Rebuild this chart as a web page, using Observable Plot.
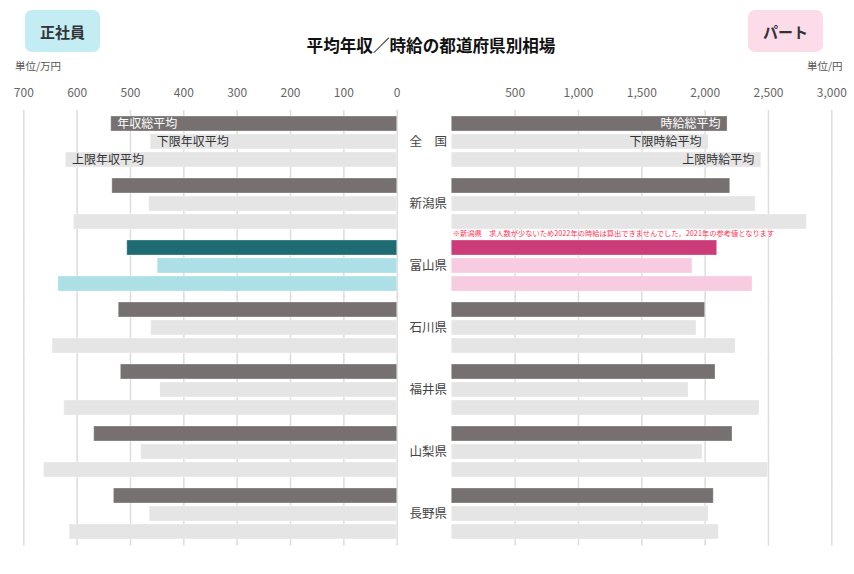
<!DOCTYPE html>
<html>
<head>
<meta charset="utf-8">
<script src="https://cdn.jsdelivr.net/npm/d3@7"></script>
<script src="https://cdn.jsdelivr.net/npm/@observablehq/plot@0.6"></script>
<style>
  html, body { margin: 0; padding: 0; background: #fff; }
  #wrap { position: relative; width: 854px; height: 574px; overflow: hidden; font-family: "Noto Sans CJK JP", "Noto Sans", sans-serif; }
  #wrap > * { position: absolute; }
  .badge { top: 10px; width: 75px; height: 42px; border-radius: 7px; font-weight: bold; font-size: 15px; color: #333; display: flex; align-items: center; justify-content: center; }
  .unit { font-size: 10.5px; color: #555; }
</style>
</head>
<body>
<div id="wrap"></div>
<script>
const prefs = ["全国", "新潟県", "富山県", "石川県", "福井県", "山梨県", "長野県"];
const metrics = ["avg", "min", "max"];
const salaryLabels = ["年収総平均", "下限年収平均", "上限年収平均"];
const wageLabels = ["時給総平均", "下限時給平均", "上限時給平均"];
const salaryAvg = [536, 534, 506, 522, 518, 568, 531];
const salaryMin = [462, 465, 449, 461, 444, 480, 464];
const salaryMax = [621, 606, 635, 646, 624, 662, 614];
const wageAvg = [2177, 2198, 2095, 2000, 2082, 2216, 2068];
const wageMin = [2027, 2398, 1900, 1932, 1869, 1979, 2027];
const wageMax = [2443, 2803, 2374, 2240, 2429, 2498, 2108];
const salaryTicks = [0, 100, 200, 300, 400, 500, 600, 700];
const wageTicks = [500, 1000, 1500, 2000, 2500, 3000];
const title = "平均年収／時給の都道府県別相場";
const leftBadge = "正社員";
const rightBadge = "パート";
const leftUnit = "単位/万円";
const rightUnit = "単位/円";
const note = "※新潟県　求人数が少ないため2022年の時給は算出できませんでした。2021年の参考値となります";
const highlight = "富山県";

function rows(avg, mn, mx, labels) {
  const out = [];
  prefs.forEach((p, i) => {
    [avg, mn, mx].forEach((arr, j) => out.push({pref: p, metric: metrics[j], value: arr[i], label: labels[j]}));
  });
  return out;
}
const salary = rows(salaryAvg, salaryMin, salaryMax, salaryLabels);
const wage = rows(wageAvg, wageMin, wageMax, wageLabels);

const palette = {
  left: {hiAvg: "#1f6b74", hiOther: "#acdfe6"},
  right: {hiAvg: "#cc3c78", hiOther: "#f8cce0"},
  avg: "#767170", other: "#e5e5e5"
};
function fillFor(side) {
  return d => d.pref === highlight
    ? (d.metric === "avg" ? palette[side].hiAvg : palette[side].hiOther)
    : (d.metric === "avg" ? palette.avg : palette.other);
}

const font = `"Noto Sans CJK JP", "Noto Sans", sans-serif`;
const common = {
  height: 574,
  marginTop: 114,
  marginBottom: 32.3,
  fy: {domain: prefs, paddingInner: 0.175, paddingOuter: 0, axis: null, label: null},
  y: {domain: metrics, paddingInner: 0.167, paddingOuter: 0, axis: null, label: null},
  style: {fontFamily: font, fontSize: "12px", color: "#666", background: "transparent", overflow: "visible"}
};

const left = Plot.plot({
  ...common,
  width: 427,
  marginLeft: 23.3,
  marginRight: 30.3,
  x: {domain: [0, 700], reverse: true, ticks: salaryTicks, axis: "top", tickSize: 0, tickPadding: 20, label: null},
  marks: [
    Plot.ruleX(salaryTicks, {x: d => d, stroke: "#dddddd", strokeWidth: 1.5, insetTop: -6, insetBottom: -6.5}),
    Plot.barX(salary, {fy: "pref", y: "metric", x: "value", fill: fillFor("left"), stroke: "#fff", strokeOpacity: 0.3, strokeWidth: 1}),
    Plot.text(salary.filter(d => d.pref === prefs[0]), {
      fy: "pref", y: "metric", x: "value", text: "label", textAnchor: "start", dx: 6,
      fill: d => d.metric === "avg" ? "#fff" : "#333", fontSize: 12
    })
  ]
});

const right = Plot.plot({
  ...common,
  width: 474,
  marginLeft: 71.3,
  marginRight: 22.7,
  x: {domain: [0, 3000], ticks: wageTicks, axis: "top", tickSize: 0, tickPadding: 20, label: null},
  marks: [
    Plot.ruleX(wageTicks, {x: d => d, stroke: "#dddddd", strokeWidth: 1.5, insetTop: -6, insetBottom: -6.5}),
    Plot.barX(wage, {fy: "pref", y: "metric", x: "value", fill: fillFor("right"), stroke: "#fff", strokeOpacity: 0.3, strokeWidth: 1}),
    Plot.text(wage.filter(d => d.pref === prefs[0]), {
      fy: "pref", y: "metric", x: "value", text: "label", textAnchor: "end", dx: -7,
      fill: d => d.metric === "avg" ? "#fff" : "#333", fontSize: 12
    }),
    Plot.text(prefs, {
      fy: d => d, text: d => d === "全国" ? "全　国" : d,
      frameAnchor: "left", dx: -23.5, textAnchor: "middle", fill: "#444", fontSize: 12.5
    }),
    Plot.text([note], {
      fy: () => prefs[1], text: d => d, frameAnchor: "bottom-left", dx: 1, dy: 4.5,
      lineAnchor: "middle", textAnchor: "start", fill: "#ff3355", fontSize: 7.25
    })
  ]
});

const wrap = document.getElementById("wrap");
left.style.left = "0px"; left.style.top = "0px";
right.style.left = "380px"; right.style.top = "0px";
wrap.appendChild(left);
wrap.appendChild(right);

function addDiv(cls, text, css) {
  const d = document.createElement("div");
  d.className = cls;
  d.textContent = text;
  Object.assign(d.style, css);
  wrap.appendChild(d);
  return d;
}
addDiv("badge", leftBadge, {left: "25px", background: "#c4ecf3"});
addDiv("badge", rightBadge, {left: "748px", background: "#fddcea"});
addDiv("", title, {left: "0px", width: "862px", top: "34px", textAlign: "center", fontWeight: "bold", fontSize: "16.6px", color: "#111", lineHeight: "22px"});
addDiv("unit", leftUnit, {left: "15px", top: "58px", lineHeight: "15px"});
addDiv("unit", rightUnit, {left: "807px", top: "58px", lineHeight: "15px"});
</script>
</body>
</html>
